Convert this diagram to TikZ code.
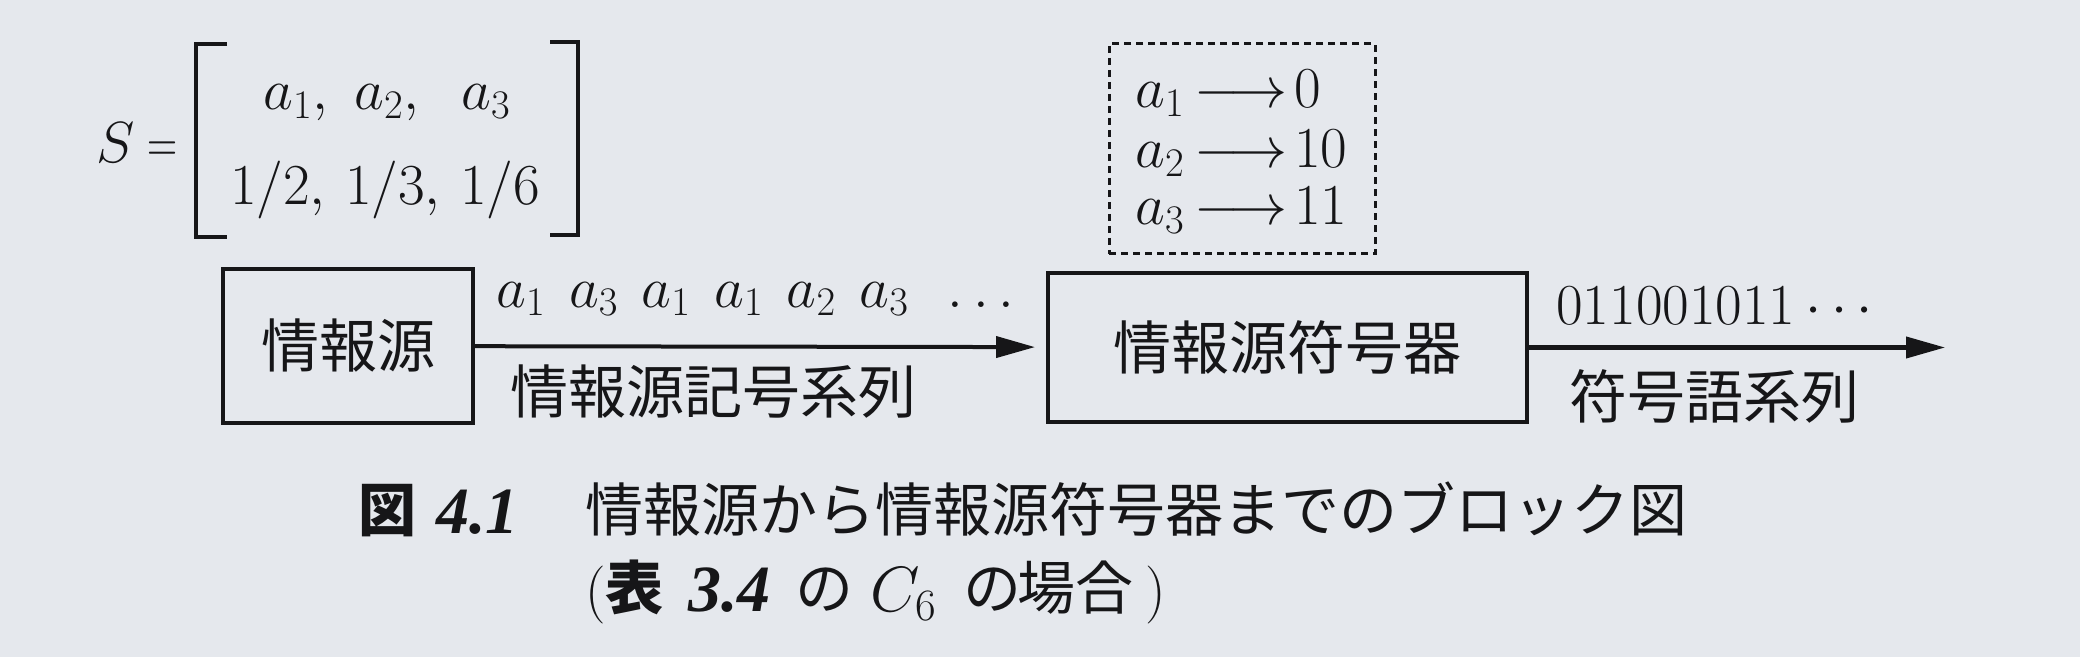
\RequirePackage{fix-cm}
\documentclass[tikz,border=0pt]{standalone}
\usepackage{fontspec}
\newfontfamily\cjk{Noto Sans CJK JP}
\newfontfamily\lserif{Liberation Serif}
\usetikzlibrary{arrows.meta}
\definecolor{bg}{RGB}{229,232,237}
\definecolor{ink}{RGB}{22,22,24}
\begin{document}
\begin{tikzpicture}[x=0.5pt,y=-0.5pt,
  every node/.style={inner sep=0pt,text=ink},
  lat/.style={font=\fontsize{29}{34}\selectfont},
  jp/.style={font=\cjk\fontsize{29}{34}\selectfont},
  bfnum/.style={font=\lserif\bfseries\itshape\fontsize{33}{38}\selectfont},
  block/.style={draw=ink,line width=2pt,font=\cjk\fontsize{29}{34}\selectfont},
  arr/.style={draw=ink,line width=2pt,-{Triangle[length=19.5pt,width=10.5pt]}},
  dbox/.style={draw=ink,line width=1.5pt,dash pattern=on 3.5pt off 2.5pt},
  brk/.style={draw=ink,line width=1.8pt}]
\fill[bg] (0,0) rectangle (2080,657);
\useasboundingbox (0,0) rectangle (2080,657);

% source definition
\node[lat,anchor=base west] (Seq) at (96,163) {$S$\hspace{0.22em}\scalebox{0.72}[1]{$=$}};
\draw[brk] (227,44) -- (196,44) -- (196,237) -- (227,237);
\draw[brk] (550,42) -- (578,42) -- (578,235) -- (550,235);
\node[lat,anchor=base] (r1) at (387,110) {$a_{1},\; a_{2},\;\; a_{3}$};
\node[lat,anchor=base] (r2) at (385,205) {$1/2,\,1/3,\,1/6$};

% code table
\node[dbox,minimum width=133pt,minimum height=105pt] (code) at (1242,149) {};
\node[lat,anchor=base west] (m1) at (1135,108) {$a_1\mkern3mu{\longrightarrow}\mkern2mu 0$};
\node[lat,anchor=base west] (m2) at (1135,168) {$a_2\mkern3mu{\longrightarrow}\mkern2mu 10$};
\node[lat,anchor=base west] (m3) at (1135,225) {$a_3\mkern3mu{\longrightarrow}\mkern2mu 11$};

% blocks
\node[block,minimum width=125pt,minimum height=77pt] (src) at (348,346) {情報源};
\node[block,minimum width=239.5pt,minimum height=74.5pt] (enc) at (1287.5,347.5) {情報源符号器};
\coordinate (out) at (1945,347.5);
\draw[arr,shorten >=5.5pt] (src) -- (enc);
\draw[arr] (enc) -- (out);

% labels
\node[lat,anchor=base west] (seq) at (496,307)
  {$a_1\hspace{0.4em}a_3\hspace{0.4em}a_1\hspace{0.4em}a_1\hspace{0.4em}a_2\hspace{0.4em}a_3\hspace{0.5em}\ldots$};
\node[jp] (seqname) at (713,392) {情報源記号系列};
\node[lat,anchor=base west] (cw) at (1556,325) {$011001011\cdots$};
\node[jp] (cwname) at (1714,396) {符号語系列};

% caption line 1
\node[jp,anchor=base west] (fig) at (358,531) {\bfseries 図};
\node[bfnum,anchor=base west] (fignum) at (436,533) {4.1};
\node[jp,anchor=base west] (cap1) at (585,531) {情報源から情報源符号器までのブロック図};
% caption line 2
\node[lat,anchor=base west] (lp) at (585,609) {(};
\node[jp,anchor=base west] (tbl) at (605,609) {\bfseries 表};
\node[bfnum,anchor=base west] (tblnum) at (688,611) {3.4};
\node[jp,anchor=base west] (no1) at (795,609) {の};
\node[lat,anchor=base west,font=\fontsize{32}{36}\selectfont] (c6) at (870,611) {$C_6$};
\node[jp,anchor=base west] (no2) at (963,609) {の};
\node[jp,anchor=base west] (baai) at (1017,609) {場合};
\node[lat,anchor=base west] (rp) at (1145,609) {)};
\end{tikzpicture}
\end{document}
